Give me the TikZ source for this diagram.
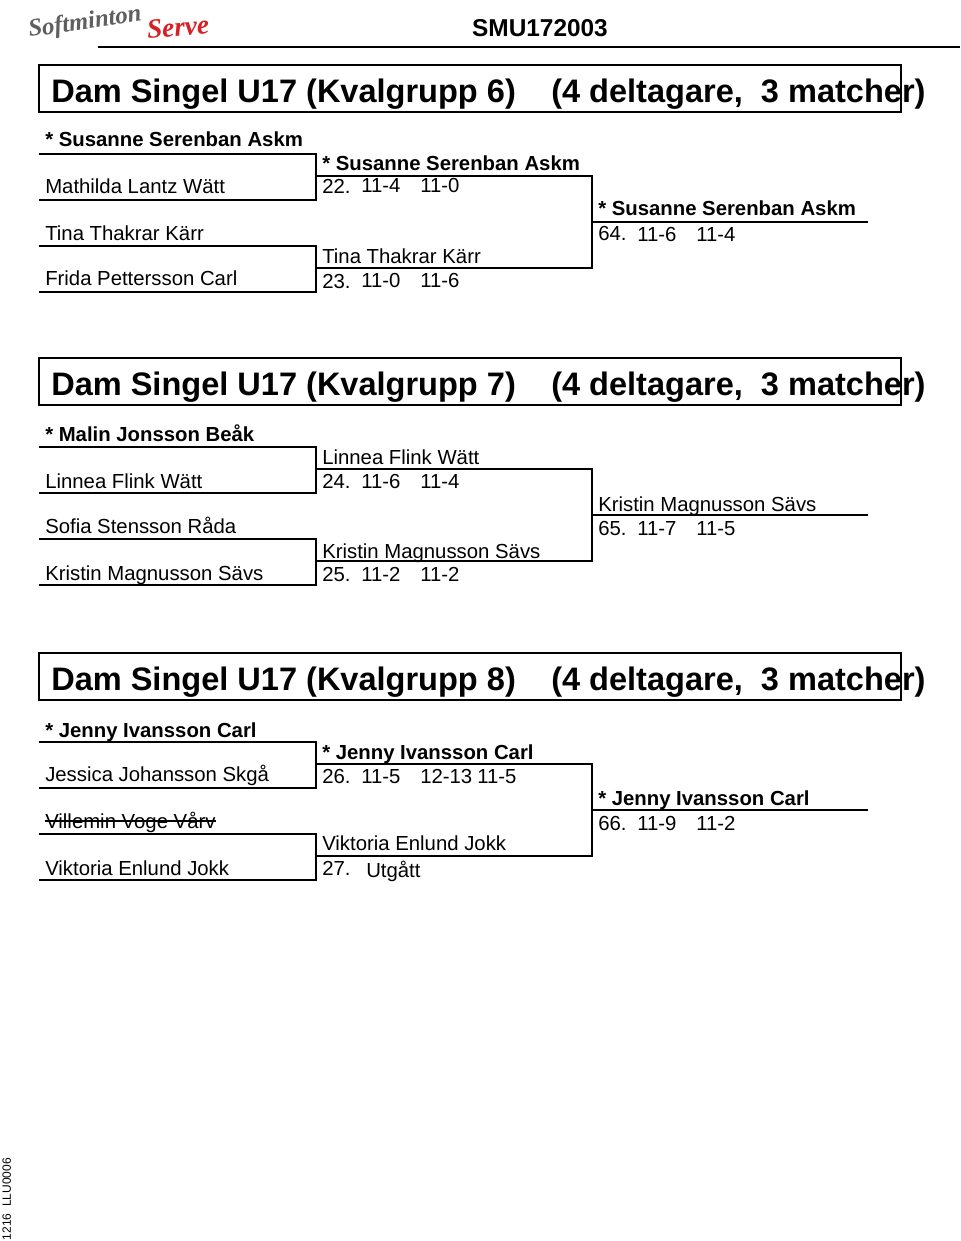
\documentclass[tikz,border=0pt]{standalone}
\usepackage{fontspec}
\setmainfont{Liberation Sans}
\newfontfamily\logofont{Liberation Serif}
\usetikzlibrary{calc}
\tikzset{x=.75pt,y=-.75pt}
\definecolor{logored}{RGB}{214,32,38}
\definecolor{logogray}{RGB}{95,95,95}
\tikzset{
  drawline/.style={line width=1.9pt,black},
  titlebox/.style={draw,line width=1.9pt,minimum width=646.5pt,minimum height=35.25pt,inner sep=0pt,outer sep=0pt,anchor=north west},
  titletext/.style={inner sep=0pt,anchor=base west,font=\bfseries\fontsize{24.4}{24.4}\selectfont},
  player/.style={inner sep=0pt,anchor=base west,font=\fontsize{15.25}{15.25}\selectfont},
  seeded/.style={inner sep=0pt,anchor=base west,font=\bfseries\fontsize{15.25}{15.25}\selectfont},
}

\begin{document}
\begin{tikzpicture}
\useasboundingbox (0,0) rectangle (960,1241);

% page head
\node[inner sep=0pt,rotate=8,text=logogray,font=\logofont\itshape\bfseries\fontsize{18.5}{18.5}\selectfont] (softminton) at (85,23) {Softminton};
\node[inner sep=0pt,rotate=5,text=logored,font=\logofont\itshape\bfseries\fontsize{20.5}{20.5}\selectfont] (serve) at (178,27) {Serve};
\node[inner sep=0pt,anchor=base,font=\bfseries\fontsize{18.3}{18.3}\selectfont] (code) at (540,37) {SMU172003};
\coordinate (headl) at (98,47);
\coordinate (headr) at (960,47);
\draw[drawline] (headl) -- (headr);
\node[inner sep=0pt,anchor=base west,rotate=90,font=\fontsize{9}{9}\selectfont] (stamp) at (11,1240.5) {1216\ \ LLU0006};

% the lines of a group
\foreach \y/\g in {0/a,293/b,588/c} {
  \begin{scope}[yshift=-.75pt*\y,name prefix=\g]
    \node[titlebox] (box) at (39,65) {};
    \coordinate (p1) at (39,154);
    \coordinate (p2) at (39,200);
    \coordinate (p3) at (39,246);
    \coordinate (p4) at (39,292);
    \coordinate (s1) at (316,154);
    \coordinate (s2) at (316,200);
    \coordinate (s3) at (316,246);
    \coordinate (s4) at (316,292);
    \coordinate (m1) at (316,176);
    \coordinate (m2) at (316,268);
    \coordinate (f1) at (592,176);
    \coordinate (f2) at (592,268);
    \coordinate (w) at (592,222);
    \coordinate (w2) at (868,222);
    \draw[drawline,line join=miter] (p1) -- (s1) -- (s2) -- (p2);
    \draw[drawline,line join=miter] (p3) -- (s3) -- (s4) -- (p4);
    \draw[drawline,line join=miter] (m1) -- (f1) -- (f2) -- (m2);
    \draw[drawline] (w) -- (w2);
  \end{scope}
}

% group 6
\node[titletext] (t6) at (51,103) {Dam Singel U17 (Kvalgrupp 6)};
\node[titletext] (d6) at (551,103) {(4 deltagare,\ \ 3 matcher)};
\node[seeded] (a11) at (45,147) {* Susanne Serenban Askm};
\node[player] (a12) at (45,194) {Mathilda Lantz Wätt};
\node[player] (a13) at (45,240) {Tina Thakrar Kärr};
\node[player] (a14) at (45,285) {Frida Pettersson Carl};
\node[seeded] (a21) at (322,171) {* Susanne Serenban Askm};
\node[player] (a22) at (322,194) {22.};
\node[player] (a23) at (361,193) {11-4};
\node[player] (a24) at (420,193) {11-0};
\node[player] (a25) at (322,263) {Tina Thakrar Kärr};
\node[player] (a26) at (322,288) {23.};
\node[player] (a27) at (361,287) {11-0};
\node[player] (a28) at (420,287) {11-6};
\node[seeded] (a31) at (598,216) {* Susanne Serenban Askm};
\node[player] (a32) at (598,241) {64.};
\node[player] (a33) at (637,242) {11-6};
\node[player] (a34) at (696,242) {11-4};

% group 7
\node[titletext] (t7) at (51,395) {Dam Singel U17 (Kvalgrupp 7)};
\node[titletext] (d7) at (551,395) {(4 deltagare,\ \ 3 matcher)};
\node[seeded] (b11) at (45,441) {* Malin Jonsson Beåk};
\node[player] (b12) at (45,488) {Linnea Flink Wätt};
\node[player] (b13) at (45,533) {Sofia Stensson Råda};
\node[player] (b14) at (45,580) {Kristin Magnusson Sävs};
\node[player] (b21) at (322,464) {Linnea Flink Wätt};
\node[player] (b22) at (322,488) {24.};
\node[player] (b23) at (361,488) {11-6};
\node[player] (b24) at (420,488) {11-4};
\node[player] (b25) at (322,558) {Kristin Magnusson Sävs};
\node[player] (b26) at (322,581) {25.};
\node[player] (b27) at (361,581) {11-2};
\node[player] (b28) at (420,581) {11-2};
\node[player] (b31) at (598,511) {Kristin Magnusson Sävs};
\node[player] (b32) at (598,535) {65.};
\node[player] (b33) at (637,535) {11-7};
\node[player] (b34) at (696,535) {11-5};

% group 8
\node[titletext] (t8) at (51,690) {Dam Singel U17 (Kvalgrupp 8)};
\node[titletext] (d8) at (551,690) {(4 deltagare,\ \ 3 matcher)};
\node[seeded] (c11) at (45,737) {* Jenny Ivansson Carl};
\node[player] (c12) at (45,781) {Jessica Johansson Skgå};
\node[player] (c13) at (45,828) {Villemin Voge Vårv};
\node[player] (c14) at (45,875) {Viktoria Enlund Jokk};
\node[seeded] (c21) at (322,759) {* Jenny Ivansson Carl};
\node[player] (c22) at (322,783) {26.};
\node[player] (c23) at (361,783) {11-5};
\node[player] (c24) at (420,783) {12-13};
\node[player] (c25) at (477,783) {11-5};
\node[player] (c26) at (322,850) {Viktoria Enlund Jokk};
\node[player] (c27) at (322,875) {27.};
\node[player] (c28) at (366,877) {Utgått};
\node[seeded] (c31) at (598,805) {* Jenny Ivansson Carl};
\node[player] (c32) at (598,830) {66.};
\node[player] (c33) at (637,830) {11-9};
\node[player] (c34) at (696,830) {11-2};
\draw[line width=1pt] ($(c13.west)+(0,-1)$) -- ($(c13.east)+(0,-1)$);
\end{tikzpicture}
\end{document}
